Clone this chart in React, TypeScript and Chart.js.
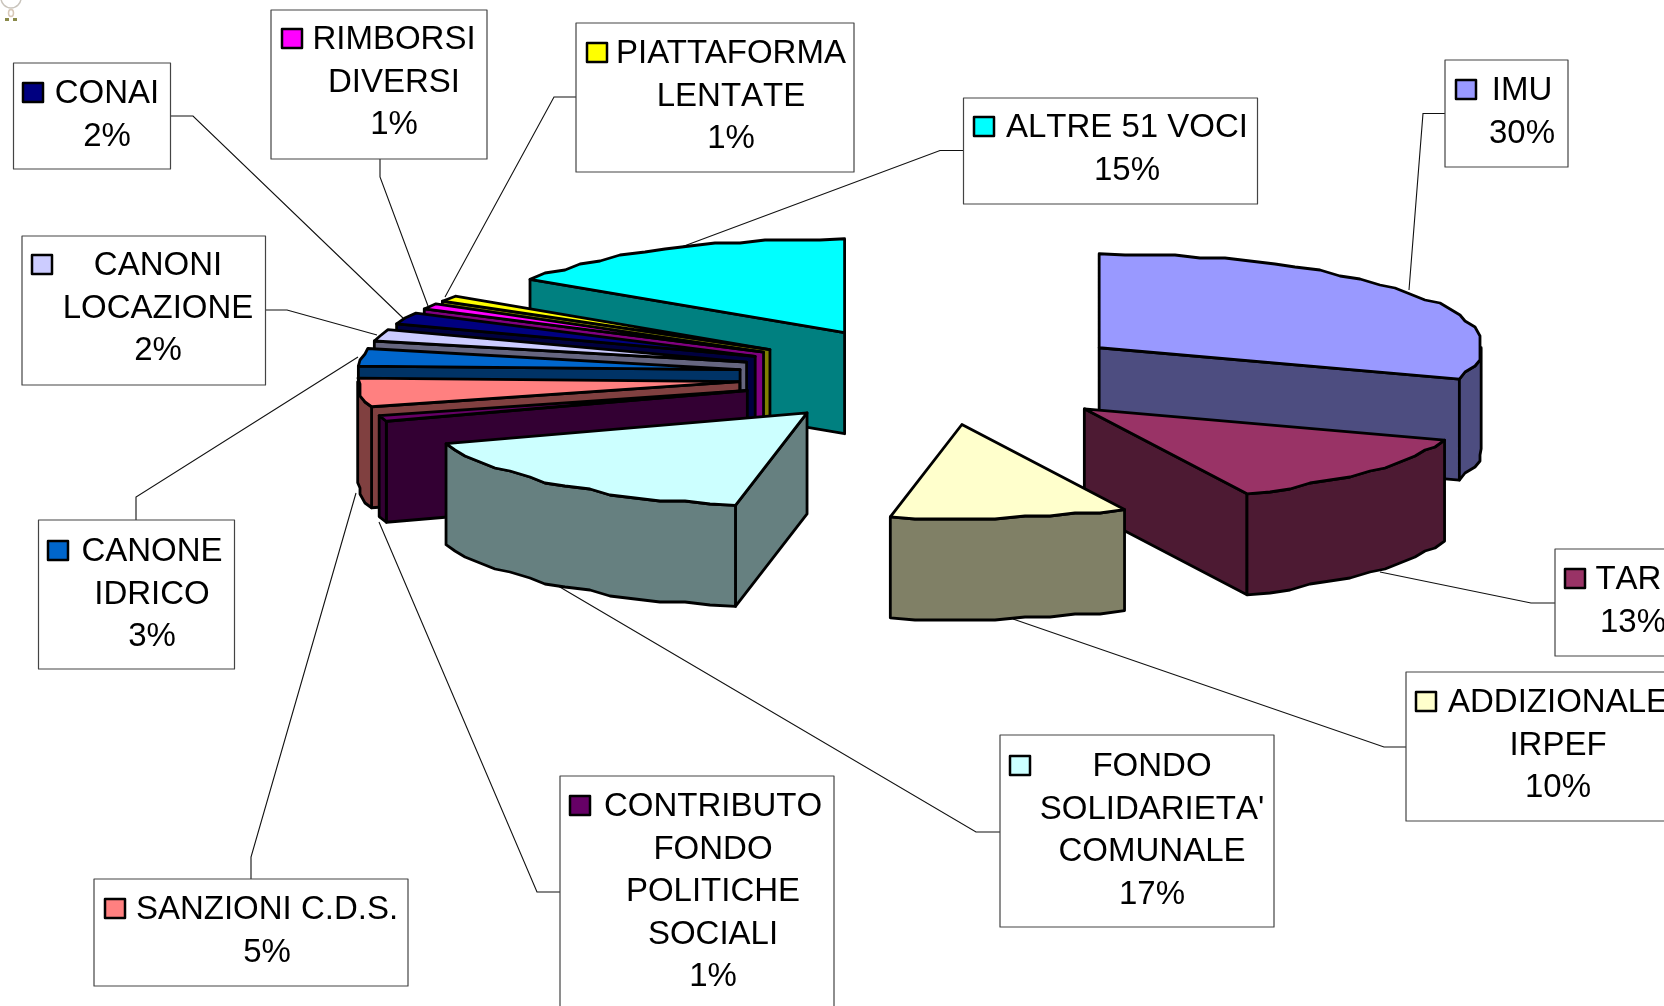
import React, { useEffect, useRef } from "react";
import { Chart, registerables } from "chart.js";

Chart.register(...registerables);

// ---- data -------------------------------------------------------------
const categories = [
  "IMU", "TARI", "ADDIZIONALE IRPEF", "FONDO SOLIDARIETA' COMUNALE",
  "CONTRIBUTO FONDO POLITICHE SOCIALI", "SANZIONI C.D.S.", "CANONE IDRICO",
  "CANONI LOCAZIONE", "CONAI", "RIMBORSI DIVERSI", "PIATTAFORMA LENTATE", "ALTRE 51 VOCI",
];
const values = [30.4, 12.6, 10, 16.7, 1.0, 4.9, 3, 2, 2, 1, 1, 15.4];
const colors = [
  "#9999FF", "#993366", "#FFFFCC", "#CCFFFF", "#660066", "#FF8080",
  "#0066CC", "#CCCCFF", "#000080", "#FF00FF", "#FFFF00", "#00FFFF",
];
const labelLines = [
  ["IMU"], ["TARI"], ["ADDIZIONALE", "IRPEF"], ["FONDO", "SOLIDARIETA'", "COMUNALE"],
  ["CONTRIBUTO", "FONDO", "POLITICHE", "SOCIALI"], ["SANZIONI C.D.S."], ["CANONE", "IDRICO"],
  ["CANONI", "LOCAZIONE"], ["CONAI"], ["RIMBORSI", "DIVERSI"], ["PIATTAFORMA", "LENTATE"], ["ALTRE 51 VOCI"],
];
const kernedLines = ["PIATTAFORMA"];

// ---- layout of the callouts: [x, y, w, h, text centre, first baseline, swatch x] ----
const boxes = [
  [1445, 60, 123, 107, 1522, 100, 1456],
  [1555, 549, 140, 107, 1633, 589, 1565],
  [1406, 672, 300, 149, 1558, 712, 1416],
  [1000, 735, 274, 192, 1152, 776, 1010],
  [560, 776, 274, 260, 713, 816, 570],
  [94, 879, 314, 107, 267, 919, 105],
  [38.5, 520, 196, 149, 152, 561, 48],
  [22, 236, 243.5, 149, 158, 275, 32],
  [13.5, 63, 157, 106, 107, 103, 23],
  [271, 10, 216, 149, 394, 49, 282],
  [576, 23, 278, 149, 731, 63, 587],
  [963.5, 98, 294, 106, 1127, 137, 974],
];
const leaders = [
  [[1445, 113.5], [1423, 113.5], [1409, 290]],
  [[1555, 603], [1531, 603], [1380, 572]],
  [[1406, 747], [1384, 747], [1013, 619]],
  [[1000, 832], [976, 832], [553, 583]],
  [[560, 892], [537, 892], [379, 522]],
  [[251, 879], [251, 857], [356, 493]],
  [[136, 520], [136, 497], [358, 357]],
  [[266, 310], [287, 310], [377, 335]],
  [[170, 116], [193, 116], [403, 318]],
  [[380, 157], [380, 177], [428, 306]],
  [[576, 97], [554, 97], [445, 297]],
  [[963.5, 150.5], [940, 150.5], [668, 252]],
];

// ---- 3D projection of the library's arcs ----
const CENTER_Y = 376;
const TILT = 94 / 382;
const DEPTH = 101;
const EXPLODE = 0.52;
const GRID_X = 5;
const GRID_Y = 3;
const FONT = "33px 'Liberation Sans', Arial, sans-serif";

function darken(hex: string) {
  const n = parseInt(hex.slice(1), 16);
  const r = (n >> 16) & 255, g = (n >> 8) & 255, b = n & 255;
  return `rgb(${Math.round(r * 0.5)},${Math.round(g * 0.5)},${Math.round(b * 0.5)})`;
}

function geometry(el: any) {
  const mid = (el.startAngle + el.endAngle) / 2;
  const R = el.outerRadius;
  const ax = el.x + Math.cos(mid) * R * EXPLODE;
  const ay = CENTER_Y + Math.sin(mid) * R * EXPLODE * TILT;
  const at = (a: number): [number, number] => [ax + Math.cos(a) * R, ay + Math.sin(a) * R * TILT];
  // the outer edge is a stepped polyline, like the low resolution original
  const rim = (a0: number, a1: number) => {
    const pts: [number, number][] = [at(a0)];
    const len = Math.abs(a1 - a0) * R;
    const n = Math.max(1, Math.round(len / 26));
    for (let i = 1; i < n; i++) {
      const p = at(a0 + ((a1 - a0) * i) / n);
      pts.push([Math.round(p[0] / GRID_X) * GRID_X, Math.round(p[1] / GRID_Y) * GRID_Y]);
    }
    pts.push(at(a1));
    return pts;
  };
  return { ax, ay, at, rim };
}

function poly(ctx: CanvasRenderingContext2D, pts: [number, number][], fill: string) {
  ctx.beginPath();
  pts.forEach((p, i) => (i ? ctx.lineTo(p[0], p[1]) : ctx.moveTo(p[0], p[1])));
  ctx.closePath();
  ctx.fillStyle = fill;
  ctx.fill();
  ctx.stroke();
}

const down = (p: [number, number]): [number, number] => [p[0], p[1] + DEPTH];

function drawSlice(ctx: CanvasRenderingContext2D, el: any, color: string) {
  const { ax, ay, at, rim } = geometry(el);
  const a0 = el.startAngle, a1 = el.endAngle;
  const apex: [number, number] = [ax, ay];
  const wall = darken(color);
  ctx.lineWidth = 2.8;
  ctx.strokeStyle = "#000";
  ctx.lineJoin = "round";
  if (-Math.cos(a0) > 1e-6) {
    const p = at(a0);
    poly(ctx, [apex, p, down(p), down(apex)], wall);
  }
  if (Math.cos(a1) > 1e-6) {
    const p = at(a1);
    poly(ctx, [apex, p, down(p), down(apex)], wall);
  }
  const v0 = Math.max(a0, 0), v1 = Math.min(a1, Math.PI);
  if (v1 > v0) {
    const top = rim(v0, v1);
    poly(ctx, [...top, ...top.slice().reverse().map(down)], wall);
  }
  poly(ctx, [apex, ...rim(a0, a1)], color);
}

const scene = {
  id: "scene",
  beforeDatasetsDraw(chart: any) {
    const ctx: CanvasRenderingContext2D = chart.ctx;
    ctx.save();
    // small remnant of a picture in the top left corner
    ctx.strokeStyle = "#c9c4bc";
    ctx.lineWidth = 1.5;
    ctx.beginPath();
    ctx.arc(11, -2, 10, 0, Math.PI);
    ctx.stroke();
    ctx.strokeStyle = "#d8c8b8";
    ctx.beginPath();
    ctx.ellipse(11, 13, 2.5, 3.5, 0, 0, Math.PI * 2);
    ctx.stroke();
    ctx.fillStyle = "#8a8a4a";
    ctx.fillRect(5, 18, 4, 3);
    ctx.fillRect(13, 18, 4, 3);

    // leader lines
    ctx.strokeStyle = "#111";
    ctx.lineWidth = 1.1;
    leaders.forEach((l) => {
      ctx.beginPath();
      l.forEach((p, i) => (i ? ctx.lineTo(p[0], p[1]) : ctx.moveTo(p[0], p[1])));
      ctx.stroke();
    });

    // slices, painted from back to front
    const meta = chart.getDatasetMeta(0);
    const order = meta.data
      .map((el: any, i: number) => ({ i, y: geometry(el).ay }))
      .sort((a: any, b: any) => a.y - b.y);
    order.forEach(({ i }: any) => drawSlice(ctx, meta.data[i], colors[i]));

    // callouts
    ctx.font = FONT;
    ctx.textAlign = "center";
    ctx.textBaseline = "alphabetic";
    boxes.forEach((b, i) => {
      const [x, y, w, h, cx, base, sx] = b;
      ctx.fillStyle = "#fff";
      ctx.fillRect(x, y, w, h);
      ctx.strokeStyle = "#444";
      ctx.lineWidth = 1.2;
      ctx.strokeRect(x, y, w, h);
      ctx.fillStyle = colors[i];
      ctx.fillRect(sx, base - 20, 20, 19);
      ctx.strokeStyle = "#000";
      ctx.lineWidth = 2.5;
      ctx.strokeRect(sx, base - 20, 20, 19);
      ctx.fillStyle = "#000";
      const lines = [...labelLines[i], `${Math.round(values[i])}%`];
      lines.forEach((t, k) => {
        (ctx as any).fontKerning = kernedLines.includes(t) ? "normal" : "none";
        ctx.fillText(t, cx, base + k * 42.5);
      });
    });
    ctx.restore();
    return false; // the slices were already drawn above, in 3D
  },
};

export default function App() {
  const ref = useRef<HTMLCanvasElement>(null);
  useEffect(() => {
    document.body.style.margin = "0";
    const chart = new Chart(ref.current as HTMLCanvasElement, {
      type: "pie",
      data: {
        labels: categories,
        datasets: [{ data: values, backgroundColor: colors, borderWidth: 0, offset: 0 }],
      },
      options: {
        animation: false,
        responsive: false,
        devicePixelRatio: 1,
        layout: { padding: { top: 121, bottom: 121, left: 210, right: 0 } },
        plugins: { legend: { display: false }, tooltip: { enabled: false } },
      },
      plugins: [scene],
    } as any);
    return () => chart.destroy();
  }, []);
  return (
    <canvas
      ref={ref}
      width={1664}
      height={1006}
      style={{ display: "block", width: 1664, height: 1006, background: "#fff" }}
    />
  );
}
